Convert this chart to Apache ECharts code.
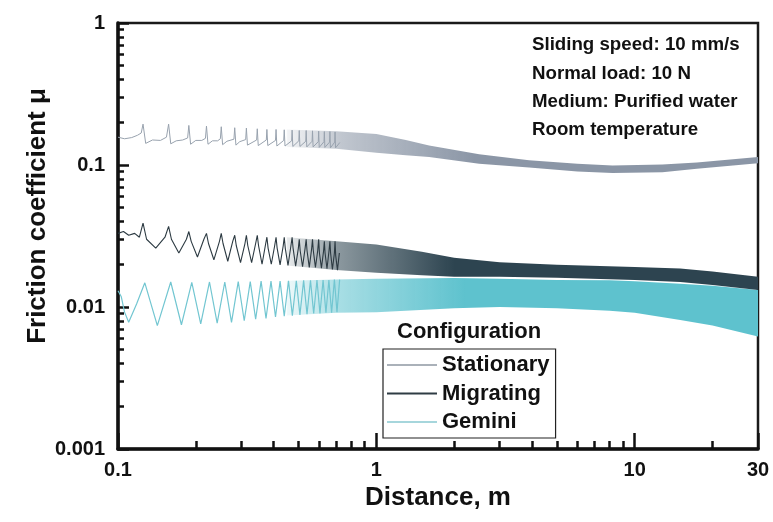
<!DOCTYPE html>
<html>
<head>
<meta charset="utf-8">
<title>Friction coefficient vs distance</title>
<script src="https://cdn.jsdelivr.net/npm/echarts@6/dist/echarts.min.js"></script>
<style>
html, body { margin: 0; padding: 0; background: #fff; }
#chart { width: 773px; height: 522px; }
</style>
</head>
<body>
<div id="chart"></div>
<script>
// ---- data (distance in m, friction coefficient) ----
var seriesNames = ['Stationary', 'Migrating', 'Gemini'];

// early part of each trace, where single cycles can still be seen
var stationaryTrace = [
	[0.100,0.157],[0.106,0.153],[0.113,0.156],[0.119,0.162],[0.123,0.168],
	[0.125,0.194],[0.128,0.142],[0.136,0.150],[0.146,0.149],[0.154,0.157],
	[0.157,0.194],[0.160,0.141],[0.168,0.148],[0.178,0.150],[0.186,0.155],
	[0.188,0.190],[0.191,0.140],[0.200,0.149],[0.211,0.149],[0.218,0.154],
	[0.220,0.188],[0.223,0.140],[0.232,0.148],[0.243,0.148],[0.249,0.153],
	[0.251,0.186],[0.254,0.139],[0.264,0.147],[0.281,0.152],
	[0.283,0.183],[0.286,0.138],[0.296,0.146],[0.312,0.151],
	[0.314,0.182],[0.317,0.138],[0.344,0.150],
	[0.346,0.180],[0.349,0.137],[0.375,0.150],
	[0.377,0.178],[0.380,0.137],[0.407,0.149],
	[0.409,0.178],[0.412,0.136],[0.438,0.149],
	[0.440,0.177],[0.443,0.136],[0.470,0.148],
	[0.472,0.176],[0.475,0.135],[0.501,0.148],
	[0.503,0.175],[0.506,0.135],[0.533,0.147],
	[0.535,0.175],[0.538,0.134],[0.564,0.147],
	[0.566,0.174],[0.569,0.134],[0.596,0.146],
	[0.598,0.173],[0.601,0.133],[0.627,0.146],
	[0.629,0.172],[0.632,0.133],[0.659,0.145],
	[0.661,0.172],[0.664,0.132],[0.690,0.145],
	[0.692,0.171],[0.695,0.132],[0.722,0.144]
];
var migratingTrace = [
	[0.100,0.033],[0.105,0.034],[0.110,0.032],[0.116,0.033],[0.121,0.031],
	[0.125,0.039],[0.129,0.030],[0.140,0.026],[0.152,0.031],
	[0.157,0.037],[0.161,0.030],[0.172,0.024],[0.184,0.030],
	[0.188,0.034],[0.192,0.029],[0.203,0.0225],[0.215,0.030],
	[0.220,0.033],[0.224,0.028],[0.235,0.0215],[0.247,0.029],
	[0.251,0.033],[0.255,0.028],[0.266,0.021],[0.278,0.029],
	[0.283,0.032],[0.287,0.027],[0.298,0.0205],[0.310,0.028],
	[0.314,0.032],[0.318,0.027],[0.329,0.0205],[0.341,0.028],
	[0.346,0.032],[0.350,0.027],[0.361,0.020],[0.373,0.028],
	[0.377,0.031],[0.381,0.026],[0.392,0.020],[0.404,0.027],
	[0.409,0.031],[0.413,0.026],[0.424,0.0198],[0.436,0.027],
	[0.440,0.031],[0.444,0.026],[0.455,0.0196],[0.467,0.027],
	[0.472,0.031],[0.476,0.026],[0.487,0.0194],[0.499,0.026],
	[0.503,0.030],[0.507,0.025],[0.518,0.0192],[0.530,0.026],
	[0.535,0.030],[0.539,0.025],[0.550,0.019],[0.562,0.026],
	[0.566,0.030],[0.570,0.025],[0.581,0.019],[0.593,0.025],
	[0.598,0.030],[0.602,0.024],[0.613,0.0188],[0.625,0.025],
	[0.629,0.029],[0.633,0.024],[0.644,0.0186],[0.656,0.025],
	[0.661,0.029],[0.665,0.024],[0.676,0.0184],[0.688,0.024],
	[0.692,0.029],[0.696,0.023],[0.707,0.0182],[0.719,0.024]
];
var geminiTrace = [
	[0.100,0.0130],[0.103,0.0118],[0.106,0.0092],[0.110,0.0078],[0.118,0.0105],
	[0.127,0.0148],[0.142,0.0074],[0.160,0.0150],[0.176,0.0075],
	[0.193,0.0149],[0.209,0.0076],[0.226,0.0150],[0.242,0.0077],
	[0.259,0.0150],[0.275,0.0078],[0.292,0.0151],[0.308,0.0080],
	[0.325,0.0151],[0.341,0.0082],[0.358,0.0152],[0.374,0.0083],
	[0.391,0.0152],[0.407,0.0085],[0.424,0.0152],[0.440,0.0086],
	[0.457,0.0153],[0.473,0.0087],[0.490,0.0153],[0.506,0.0088],
	[0.523,0.0154],[0.539,0.0089],[0.556,0.0154],[0.572,0.0090],
	[0.589,0.0155],[0.605,0.0090],[0.622,0.0155],[0.638,0.0091],
	[0.655,0.0155],[0.671,0.0091],[0.688,0.0156],[0.704,0.0092],
	[0.721,0.0156]
];

// later part: cycles merge into a band, kept as [distance, lower, upper]
var stationaryBand = [
	[0.45,0.134,0.178],[0.7,0.130,0.173],[1.0,0.122,0.165],[1.3,0.117,0.150],
	[1.6,0.114,0.137],[2.5,0.102,0.119],[3.9,0.096,0.108],[6,0.090,0.102],
	[8.2,0.088,0.099],[12.8,0.089,0.101],[17.4,0.094,0.104],[30,0.103,0.114]
];
var migratingBand = [
	[0.45,0.0196,0.031],[0.7,0.0182,0.029],[1.0,0.0174,0.0275],[1.5,0.0167,0.0245],
	[2,0.0163,0.0222],[3,0.0163,0.0207],[5,0.0161,0.0198],[10,0.0155,0.0191],
	[15,0.0150,0.0187],[20,0.0143,0.0178],[30,0.0132,0.0163]
];
var geminiBand = [
	[0.45,0.0087,0.0153],[0.7,0.0091,0.0156],[1,0.0092,0.0158],[2,0.0098,0.0160],
	[3,0.0100,0.0158],[5,0.0098,0.0155],[8,0.0094,0.0154],[10,0.0091,0.0152],
	[15,0.0081,0.0146],[20,0.0074,0.0141],[30,0.0062,0.0132]
];

var xMinorTicks = [0.2,0.3,0.4,0.5,0.6,0.7,0.8,0.9,2,3,4,5,6,7,8,9,20];
var yMinorTicks = [0.002,0.003,0.004,0.005,0.006,0.007,0.008,0.009,
	0.02,0.03,0.04,0.05,0.06,0.07,0.08,0.09,0.2,0.3,0.4,0.5,0.6,0.7,0.8,0.9];

var notes = ['Sliding speed: 10 mm/s', 'Normal load: 10 N', 'Medium: Purified water', 'Room temperature'];

// ---- chart ----
var FONT = '"Liberation Sans", Arial, Helvetica, sans-serif';
var INK = '#111';
var myChart = echarts.init(document.getElementById('chart'));

function fmt(v) {
	return String(parseFloat(Number(v).toPrecision(3)));
}
function rgba(rgb, a) {
	return 'rgba(' + rgb.join(',') + ',' + a + ')';
}

//band drawn as one polygon, lighter where the cycles are still separate
function bandSeries(name, rows, rgb, fadeFrom, fadeTo) {
	return {
		name: name,
		type: 'custom',
		clip: true,
		silent: true,
		encode: { x: 0, y: [1, 2] },
		data: rows,
		renderItem: function (params, api) {
			if (params.dataIndex !== 0) return null;
			var pts = [];
			for (var i = 0; i < rows.length; i++) pts.push(api.coord([rows[i][0], rows[i][1]]));
			for (var j = rows.length - 1; j >= 0; j--) pts.push(api.coord([rows[j][0], rows[j][2]]));
			var x0 = api.coord([fadeFrom, 0.01])[0];
			var x1 = api.coord([fadeTo, 0.01])[0];
			return {
				type: 'polygon',
				shape: { points: pts },
				style: {
					fill: new echarts.graphic.LinearGradient(x0, 0, x1, 0, [
						{ offset: 0, color: rgba(rgb, 0.1) },
						{ offset: 0.3, color: rgba(rgb, 0.55) },
						{ offset: 1, color: rgba(rgb, 1) }
					], true)
				}
			};
		}
	};
}
function traceSeries(name, data, color, width) {
	return {
		name: name,
		type: 'line',
		data: data,
		showSymbol: false,
		symbol: 'none',
		silent: true,
		lineStyle: { color: color, width: width }
	};
}

var tickStyle = { color: INK, width: 2.5 };
var labelStyle = { color: INK, fontSize: 20, fontWeight: 'bold', fontFamily: FONT };

var option = {
	animation: false,
	grid: {
		left: 118, right: 15, top: 23, bottom: 73,
		show: true, borderColor: '#1a1a1a', borderWidth: 2.5
	},
	legend: {
		data: [
			{ name: seriesNames[0], itemStyle: { color: '#aab1b9' } },
			{ name: seriesNames[1], itemStyle: { color: '#2f3c44' } },
			{ name: seriesNames[2], itemStyle: { color: '#a6d6dc' } }
		],
		orient: 'vertical',
		left: 383, top: 349,
		icon: 'rect', itemWidth: 50, itemHeight: 2, itemGap: 6.5,
		padding: [5, 6, 5, 4],
		borderColor: '#222', borderWidth: 1.2, backgroundColor: '#fff',
		selectedMode: false,
		textStyle: { fontSize: 22, fontWeight: 'bold', color: INK, fontFamily: FONT }
	},
	xAxis: [{
		type: 'log', logBase: 10, min: 0.1, max: 30, position: 'bottom',
		name: 'Distance, m', nameLocation: 'middle', nameGap: 36,
		nameTextStyle: { fontSize: 26, fontWeight: 'bold', color: INK, fontFamily: FONT },
		axisLine: { show: true, onZero: false, lineStyle: { color: INK, width: 3.5 } },
		axisTick: { show: true, inside: true, length: 16, lineStyle: tickStyle },
		axisLabel: Object.assign({ margin: 11, formatter: fmt }, labelStyle),
		splitLine: { show: false }
	}, {
		type: 'log', logBase: 10, min: 0.1, max: 30, position: 'bottom',
		axisLine: { show: false },
		axisLabel: { show: false },
		splitLine: { show: false },
		axisTick: { show: true, inside: true, length: 8, customValues: xMinorTicks, lineStyle: tickStyle }
	}],
	yAxis: [{
		type: 'log', logBase: 10, min: 0.001, max: 1, position: 'left',
		axisLine: { show: true, onZero: false, lineStyle: { color: INK, width: 3.5 } },
		axisTick: { show: true, inside: true, length: 11, lineStyle: tickStyle },
		axisLabel: Object.assign({ margin: 13, formatter: fmt }, labelStyle),
		splitLine: { show: false }
	}, {
		type: 'log', logBase: 10, min: 0.001, max: 1, position: 'left',
		axisLine: { show: false },
		axisLabel: { show: false },
		splitLine: { show: false },
		axisTick: { show: true, inside: true, length: 6, customValues: yMinorTicks, lineStyle: tickStyle }
	}],
	graphic: [{
		type: 'text', left: 532, top: 31,
		style: { text: notes.join('\n'), font: 'bold 18.7px ' + FONT, lineHeight: 28.3, fill: INK }
	}, {
		type: 'text', left: 397, top: 321,
		style: { text: 'Configuration', font: 'bold 22px ' + FONT, fill: INK }
	}, {
		type: 'text', x: 38, y: 216, rotation: Math.PI / 2,
		style: { text: 'Friction coefficient \u03bc', font: 'bold 26px ' + FONT, fill: INK,
			align: 'center', verticalAlign: 'middle' }
	}],
	series: [
		bandSeries('Stationary band', stationaryBand, [139, 150, 166], 0.45, 2.4),
		traceSeries(seriesNames[0], stationaryTrace, '#98a2ae', 1),
		bandSeries('Gemini band', geminiBand, [94, 194, 206], 0.45, 2.2),
		traceSeries(seriesNames[2], geminiTrace, '#72c6d1', 1.2),
		bandSeries('Migrating band', migratingBand, [45, 68, 80], 0.45, 2.0),
		traceSeries(seriesNames[1], migratingTrace, '#2c3a42', 1.1)
	]
};

myChart.setOption(option);
window.onresize = myChart.resize;
</script>
</body>
</html>
